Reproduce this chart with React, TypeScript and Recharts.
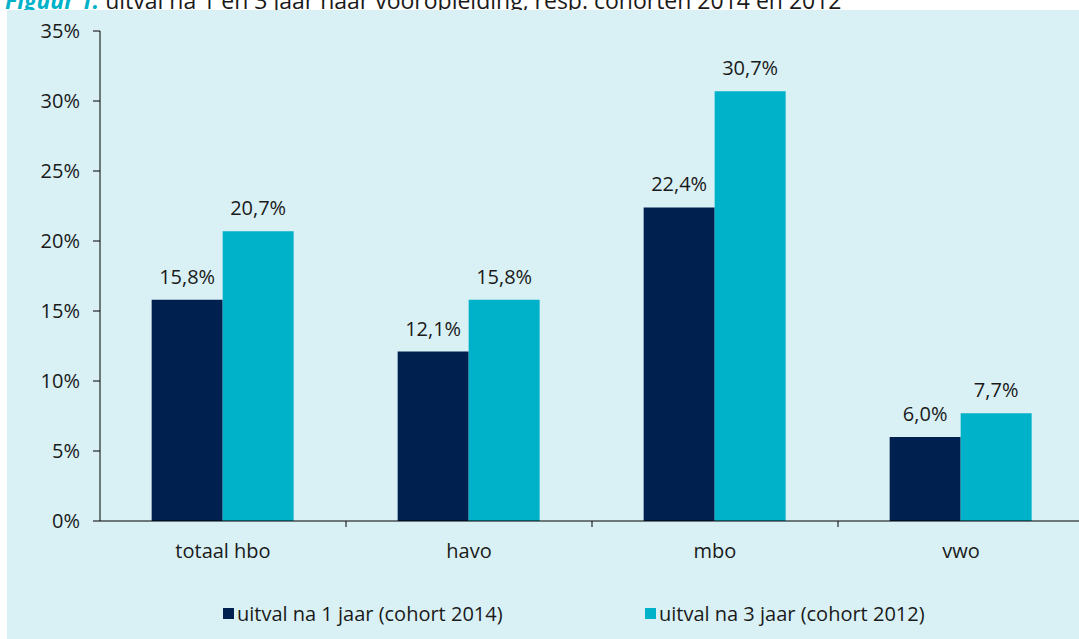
import React from "react";
import { BarChart, Bar, XAxis, YAxis, LabelList, Legend } from "recharts";

const categories = ["totaal hbo", "havo", "mbo", "vwo"];
const uitval1Jaar = [15.8, 12.1, 22.4, 6.0];
const uitval3Jaar = [20.7, 15.8, 30.7, 7.7];
const yTicks = [0, 5, 10, 15, 20, 25, 30, 35];

const seriesNames = {
  jaar1: "uitval na 1 jaar (cohort 2014)",
  jaar3: "uitval na 3 jaar (cohort 2012)",
};

const data = categories.map((name, i) => ({
  name,
  jaar1: uitval1Jaar[i],
  jaar3: uitval3Jaar[i],
}));

const DARK = "#00214f";
const CYAN = "#00b2c9";
const PANEL = "#d9f1f5";
const TEXT = "#1a1a1a";
const FONT = "'Open Sans', 'Noto Sans', sans-serif";

const fmt = (v: any) => `${Number(v).toFixed(1).replace(".", ",")}%`;

function CategoryTick(props: any) {
  const { x, y, payload, index, visibleTicksCount } = props;
  const off = payload?.offset ?? 0;
  const last = (visibleTicksCount ?? categories.length) - 1;
  return (
    <g>
      {index < last && (
        <line x1={x + off} x2={x + off} y1={y} y2={y + 6} stroke="#000" strokeWidth={1} />
      )}
      <text
        x={x}
        y={y + 29}
        textAnchor="middle"
        dominantBaseline="central"
        fontSize={20}
        fill={TEXT}
        fontFamily={FONT}
      >
        {payload.value}
      </text>
    </g>
  );
}

function LegendContent(props: any) {
  const items = props.payload || [];
  return (
    <div style={{ display: "flex", paddingLeft: 223, fontFamily: FONT, fontSize: 20, color: TEXT }}>
      {items.map((it: any, i: number) => (
        <div key={i} style={{ display: "flex", alignItems: "center", width: i === 0 ? 422 : 320 }}>
          <span
            style={{ display: "inline-block", width: 11, height: 11, background: it.color, marginRight: 3 }}
          />
          <span>{it.value}</span>
        </div>
      ))}
    </div>
  );
}

export default function App() {
  return (
    <div
      style={{
        position: "absolute",
        top: 0,
        left: 0,
        width: 1079,
        height: 639,
        overflow: "hidden",
        background: "#fff",
        fontFamily: FONT,
      }}
    >
      <div
        style={{
          position: "absolute",
          top: -11,
          left: 5,
          fontSize: 23,
          lineHeight: "23px",
          whiteSpace: "nowrap",
          color: TEXT,
        }}
      >
        <span style={{ color: CYAN, fontWeight: 700, fontStyle: "italic" }}>Figuur 1.</span> uitval na 1 en 3
        jaar naar vooropleiding, resp. cohorten 2014 en 2012
      </div>
      <div
        style={{ position: "absolute", left: 7, top: 10, width: 1072, height: 629, background: PANEL }}
      />
      <div style={{ position: "absolute", left: 0, top: 0 }}>
        <BarChart
          width={1090}
          height={639}
          data={data}
          margin={{ top: 31, right: 6, bottom: 0, left: 0 }}
          barCategoryGap="21%"
          barGap={0}
        >
          <XAxis
            dataKey="name"
            height={118}
            tickSize={0}
            tickMargin={0}
            tickLine={false}
            axisLine={{ stroke: "#000", strokeWidth: 1 }}
            tick={<CategoryTick />}
            interval={0}
          />
          <YAxis
            width={100}
            domain={[0, 35]}
            ticks={yTicks}
            tickSize={7}
            tickMargin={13}
            tickFormatter={(v) => `${v}%`}
            axisLine={{ stroke: "#000", strokeWidth: 1 }}
            tickLine={{ stroke: "#000", strokeWidth: 1 }}
            tick={{ fontSize: 20, fill: TEXT, fontFamily: FONT }}
          />
          <Legend
            verticalAlign="middle"
            align="center"
            layout="horizontal"
            wrapperStyle={{ top: 600, left: 0, width: 1079 }}
            content={<LegendContent />}
          />
          <Bar dataKey="jaar1" name={seriesNames.jaar1} fill={DARK} isAnimationActive={false}>
            <LabelList
              dataKey="jaar1"
              position="top"
              offset={16}
              formatter={fmt}
              style={{ fontSize: 20, fill: TEXT, fontFamily: FONT }}
            />
          </Bar>
          <Bar dataKey="jaar3" name={seriesNames.jaar3} fill={CYAN} isAnimationActive={false}>
            <LabelList
              dataKey="jaar3"
              position="top"
              offset={16}
              formatter={fmt}
              style={{ fontSize: 20, fill: TEXT, fontFamily: FONT }}
            />
          </Bar>
        </BarChart>
      </div>
    </div>
  );
}
